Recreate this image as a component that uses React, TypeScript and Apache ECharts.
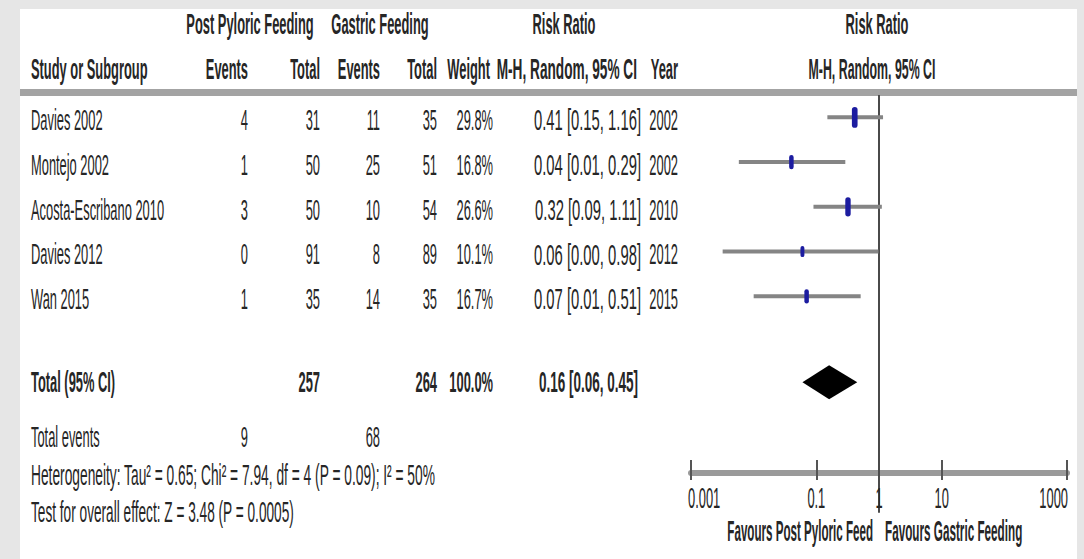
import React, { useEffect, useRef } from "react";
import * as echarts from "echarts";

// ---------- data ----------
const studies = ["Davies 2002", "Montejo 2002", "Acosta-Escribano 2010", "Davies 2012", "Wan 2015"];
const ppEvents = [4, 1, 3, 0, 1];
const ppTotal = [31, 50, 50, 91, 35];
const gEvents = [11, 25, 10, 8, 14];
const gTotal = [35, 51, 54, 89, 35];
const weights = [29.8, 16.8, 26.6, 10.1, 16.7];
const years = [2002, 2002, 2010, 2012, 2015];
const riskRatio = [0.41, 0.04, 0.32, 0.06, 0.07];
const ciLow = [0.15, 0.01, 0.09, 0.0, 0.01];
const ciHigh = [1.16, 0.29, 1.11, 0.98, 0.51];
// lower ends as drawn in the plot (the printed values are rounded)
const plotLow = [0.15, 0.0058, 0.09, 0.0032, 0.01];
const plotHigh = [1.16, 0.29, 1.11, 0.98, 0.51];

const totalPP = 257;
const totalG = 264;
const totalWeight = "100.0%";
const totalEventsPP = 9;
const totalEventsG = 68;
const pooledRR = 0.16;
const pooledLow = 0.06;
const pooledHigh = 0.45;
const pooledRow = 5.92;

const xTicks = [0.001, 0.1, 1, 10, 1000];
const heterogeneityText = "Heterogeneity: Tau² = 0.65; Chi² = 7.94, df = 4 (P = 0.09); I² = 50%";
const overallText = "Test for overall effect: Z = 3.48 (P = 0.0005)";
const favoursLeft = "Favours Post Pyloric Feed";
const favoursRight = "Favours Gastric Feeding";

// ---------- style ----------
const FONT = "'Liberation Sans', Arial, sans-serif";
const FS = 29;
const SX = 0.444;
const TXT = "#262626";

function txt(text: string, x: number, y: number, align = "left", bold = false, k = 1) {
  return {
    type: "text",
    x,
    y,
    scaleX: SX * k,
    z: 10,
    silent: true,
    style: {
      text,
      fontSize: FS,
      fontFamily: FONT,
      fontWeight: bold ? "bold" : "normal",
      fill: TXT,
      align,
      verticalAlign: "middle",
      textAlign: align,
      textVerticalAlign: "middle",
    },
  };
}

const fmt = (v: number) => v.toFixed(2);

export default function App() {
  const ref = useRef<HTMLDivElement>(null);

  useEffect(() => {
    if (!ref.current) return;
    const chart = echarts.init(ref.current, undefined, { renderer: "svg" });

    const studyData = studies.map((_, i) => [i, riskRatio[i], plotLow[i], plotHigh[i], weights[i]]);
    const diamondData = [[pooledRow, pooledRR, pooledLow, pooledHigh]];

    chart.setOption({
      animation: false,
      backgroundColor: "#e6e6e6",
      grid: { left: 691, right: 17, top: 95, bottom: 86 },
      xAxis: [
        {
          type: "log",
          logBase: 10,
          min: 0.001,
          max: 1000,
          position: "bottom",
          axisLine: { show: true, onZero: false, lineStyle: { color: "#9a9a9a", width: 6 } },
          axisTick: { show: true, inside: true, length: 13, customValues: xTicks, lineStyle: { color: "#555", width: 2 } },
          axisLabel: { show: false },
          splitLine: { show: false },
          minorTick: { show: false },
        },
        {
          type: "log",
          logBase: 10,
          min: 0.001,
          max: 1000,
          position: "bottom",
          axisLine: { show: false, onZero: false },
          axisTick: { show: true, inside: false, length: 7, customValues: xTicks, lineStyle: { color: "#555", width: 2 } },
          axisLabel: { show: false },
          splitLine: { show: false },
        },
      ],
      yAxis: {
        type: "value",
        inverse: true,
        min: -0.5,
        max: 7.95,
        show: false,
        splitLine: { show: false },
      },
      series: [
        {
          type: "line",
          data: [[1, -0.5], [1, 8.84]],
          clip: false,
          symbol: "none",
          silent: true,
          lineStyle: { color: "#4a4a4a", width: 2 },
          z: 3,
        },
        {
          type: "custom",
          data: studyData,
          encode: { x: [1, 2, 3], y: 0 },
          z: 4,
          renderItem: (params: any, api: any) => {
            const y = api.value(0);
            const p = api.coord([api.value(1), y]);
            const lo = api.coord([api.value(2), y]);
            const hi = api.coord([api.value(3), y]);
            const w = api.value(4);
            const mw = 3 + w * 0.09;
            const mh = 6 + w * 0.5;
            return {
              type: "group",
              children: [
                {
                  type: "line",
                  shape: { x1: lo[0], y1: lo[1], x2: hi[0], y2: hi[1] },
                  style: { stroke: "#858585", lineWidth: 4 },
                },
                {
                  type: "rect",
                  shape: { x: p[0] - mw / 2, y: p[1] - mh / 2, width: mw, height: mh, r: mw / 2 },
                  style: { fill: "#1c1ca0" },
                },
              ],
            };
          },
        },
        {
          type: "custom",
          data: diamondData,
          encode: { x: [1, 2, 3], y: 0 },
          z: 4,
          renderItem: (params: any, api: any) => {
            const y = api.value(0);
            const c = api.coord([api.value(1), y]);
            const lo = api.coord([api.value(2), y]);
            const hi = api.coord([api.value(3), y]);
            const h = 17;
            return {
              type: "polygon",
              shape: { points: [[lo[0], c[1]], [c[0], c[1] - h], [hi[0], c[1]], [c[0], c[1] + h]] },
              style: { fill: "#000" },
            };
          },
        },
      ],
    });

    const px = (v: number) => chart.convertToPixel({ xAxisIndex: 0 }, v) as number;
    const py = (v: number) => chart.convertToPixel({ yAxisIndex: 0 }, v) as number;

    const els: any[] = [];
    els.push({ type: "rect", z: -100, silent: true, shape: { x: 20, y: 9, width: 1057, height: 560 }, style: { fill: "#fff" } });
    els.push({ type: "rect", z: 1, silent: true, shape: { x: 20, y: 89, width: 1057, height: 7 }, style: { fill: "#a3a3a3" } });

    // header row 1
    const h1 = 24;
    els.push(txt("Post Pyloric Feeding", 250, h1, "center", true));
    els.push(txt("Gastric Feeding", 380, h1, "center", true));
    els.push(txt("Risk Ratio", 564, h1, "center", true));
    els.push(txt("Risk Ratio", 877, h1, "center", true));
    // header row 2
    const h2 = 69;
    els.push(txt("Study or Subgroup", 31, h2, "left", true));
    els.push(txt("Events", 248, h2, "right", true));
    els.push(txt("Total", 320, h2, "right", true));
    els.push(txt("Events", 380, h2, "right", true));
    els.push(txt("Total", 437, h2, "right", true));
    els.push(txt("Weight", 490, h2, "right", true));
    els.push(txt("M-H, Random, 95% CI", 637, h2, "right", true, 1.06));
    els.push(txt("Year", 678, h2, "right", true));
    els.push(txt("M-H, Random, 95% CI", 872, h2, "center", true, 0.96));

    // study rows
    studies.forEach((s, i) => {
      const y = py(i) + 3;
      els.push(txt(s, 31, y, "left"));
      els.push(txt(String(ppEvents[i]), 248, y, "right"));
      els.push(txt(String(ppTotal[i]), 320, y, "right"));
      els.push(txt(String(gEvents[i]), 380, y, "right"));
      els.push(txt(String(gTotal[i]), 437, y, "right"));
      els.push(txt(weights[i].toFixed(1) + "%", 493, y, "right"));
      els.push(txt(`${fmt(riskRatio[i])} [${fmt(ciLow[i])}, ${fmt(ciHigh[i])}]`, 641, y, "right", false, 1.15));
      els.push(txt(String(years[i]), 678, y, "right"));
    });

    // total row
    const ty = py(pooledRow);
    els.push(txt("Total (95% CI)", 31, ty, "left", true));
    els.push(txt(String(totalPP), 320, ty, "right", true));
    els.push(txt(String(totalG), 437, ty, "right", true));
    els.push(txt(totalWeight, 493, ty, "right", true));
    els.push(txt(`${fmt(pooledRR)} [${fmt(pooledLow)}, ${fmt(pooledHigh)}]`, 638, ty, "right", true, 1.05));

    els.push(txt("Total events", 31, 437, "left"));
    els.push(txt(String(totalEventsPP), 248, 437, "right"));
    els.push(txt(String(totalEventsG), 380, 437, "right"));
    els.push(txt(heterogeneityText, 31, 475, "left", false, 1.07));
    els.push(txt(overallText, 31, 512, "left", false, 1.06));

    // x-axis labels
    xTicks.forEach((v, i) => {
      const align = i === 0 ? "left" : i === xTicks.length - 1 ? "right" : "center";
      const x = px(v) + (i === 0 ? -3 : i === xTicks.length - 1 ? 1 : 0);
      els.push(txt(String(v), x, 498, align));
    });
    const one = px(1);
    els.push(txt(favoursLeft, one - 6, 531, "right", true, 0.9));
    els.push(txt(favoursRight, one + 6, 531, "left", true, 0.91));

    chart.setOption({ graphic: { elements: els } });

    return () => chart.dispose();
  }, []);

  return (
    <div
      ref={ref}
      style={{ position: "absolute", left: 0, top: 0, width: 1084, height: 559 }}
    />
  );
}
